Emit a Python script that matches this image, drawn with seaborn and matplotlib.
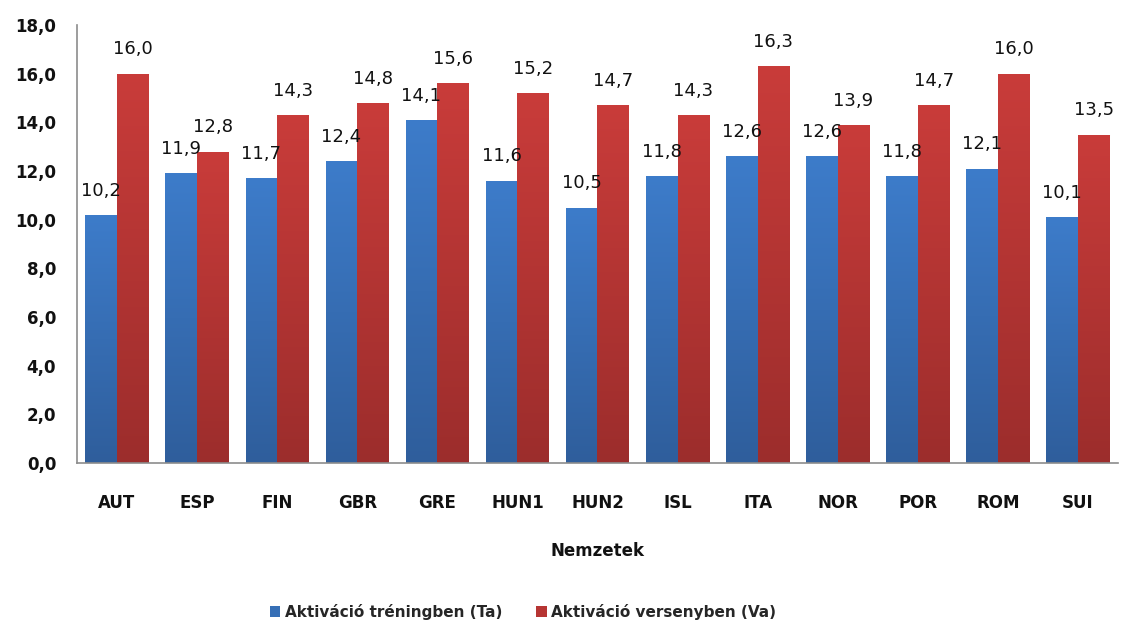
import numpy as np
import pandas as pd
import matplotlib
matplotlib.use("Agg")
import matplotlib.pyplot as plt
from matplotlib.colors import LinearSegmentedColormap
from matplotlib.patches import Patch
import seaborn as sns

nations = ["AUT", "ESP", "FIN", "GBR", "GRE", "HUN1", "HUN2", "ISL", "ITA", "NOR", "POR", "ROM", "SUI"]
training = [10.2, 11.9, 11.7, 12.4, 14.1, 11.6, 10.5, 11.8, 12.6, 12.6, 11.8, 12.1, 10.1]
competition = [16.0, 12.8, 14.3, 14.8, 15.6, 15.2, 14.7, 14.3, 16.3, 13.9, 14.7, 16.0, 13.5]
series_names = ["Aktiváció tréningben (Ta)", "Aktiváció versenyben (Va)"]
y_ticks = [0, 2, 4, 6, 8, 10, 12, 14, 16, 18]

df = pd.DataFrame({
    "Nemzetek": nations * 2,
    "value": training + competition,
    "series": [series_names[0]] * len(nations) + [series_names[1]] * len(nations),
})

sns.set_style("white")
plt.rcParams["font.family"] = ["DejaVu Sans"]

top_colors = {series_names[0]: "#3d7cca", series_names[1]: "#c93c3a"}
bottom_colors = {series_names[0]: "#2f5e9c", series_names[1]: "#9c2d2c"}
mid_colors = {series_names[0]: "#366fb6", series_names[1]: "#b63533"}

fig = plt.figure(figsize=(11.22, 6.26), dpi=100)
ax = fig.add_axes([0.0686, 0.2604, 0.9278, 0.6996])

sns.barplot(data=df, x="Nemzetek", y="value", hue="series", hue_order=series_names,
            palette=mid_colors, width=0.79, gap=0, saturation=1, ax=ax,
            legend=False, errorbar=None)

ax.set_ylim(0, 18)
ax.set_xlim(-0.5, len(nations) - 0.5)

# vertical gradient fill for every bar, lighter at the top
for container, name in zip(ax.containers, series_names):
    cmap = LinearSegmentedColormap.from_list(name, [bottom_colors[name], top_colors[name]])
    grad = np.linspace(0, 1, 256).reshape(-1, 1)
    for bar in container:
        x0, y0 = bar.get_x(), bar.get_y()
        w, h = bar.get_width(), bar.get_height()
        img = ax.imshow(grad, cmap=cmap, origin="lower", aspect="auto",
                        extent=(x0, x0 + w, y0, y0 + h), zorder=bar.get_zorder() + 0.1)
        img.set_clip_path(bar)
    labels = [f"{v:.1f}".replace(".", ",") for v in container.datavalues]
    ax.bar_label(container, labels=labels, padding=11, fontsize=13, color="#111111")

ax.set_xlim(-0.5, len(nations) - 0.5)
ax.set_ylim(0, 18)

ax.set_yticks(y_ticks)
ax.set_yticklabels([f"{t:.1f}".replace(".", ",") for t in y_ticks],
                   fontsize=12, fontweight="bold", color="#111111")
ax.set_xticks(range(len(nations)))
ax.set_xticklabels(nations, fontsize=12, fontweight="bold", color="#111111")
ax.set_xticks(np.arange(-0.5, len(nations), 1), minor=True)
ax.tick_params(axis="x", which="major", length=0, pad=22)
ax.tick_params(axis="x", which="minor", length=7, width=1.2, color="#8c8c8c", direction="out")
ax.tick_params(axis="y", which="major", length=7, width=1.2, color="#8c8c8c", direction="out", pad=8)

ax.set_xlabel("Nemzetek", fontsize=12, fontweight="bold", labelpad=22, color="#111111")
ax.set_ylabel("")

for side in ("top", "right"):
    ax.spines[side].set_visible(False)
for side in ("left", "bottom"):
    ax.spines[side].set_color("#8c8c8c")
    ax.spines[side].set_linewidth(1.2)

handles = [Patch(facecolor=mid_colors[n], edgecolor="none") for n in series_names]
fig.legend(handles, series_names, loc="center", bbox_to_anchor=(523 / 1122, 1 - 612 / 626),
           ncol=2, frameon=False, prop={"size": 11, "weight": "bold"},
           handlelength=0.7, handleheight=0.7, handletextpad=0.3, columnspacing=2.2)

fig.savefig("out.png", dpi=100)
